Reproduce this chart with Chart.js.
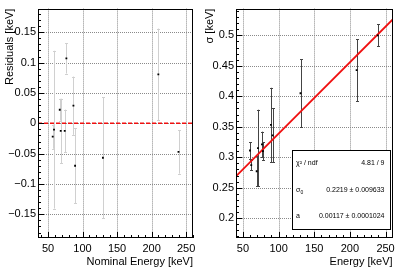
<!DOCTYPE html>
<html><head><meta charset="utf-8">
<script src="https://cdn.jsdelivr.net/npm/chart.js@4.4.1/dist/chart.umd.min.js"></script>
<style>
html,body{margin:0;padding:0;background:#fff;}
#wrap{position:relative;width:399px;height:271px;overflow:hidden;}
#c1{position:absolute;left:0;top:0;}
#c2{position:absolute;left:200px;top:0;}
</style></head><body>
<div id="wrap"><canvas id="c1" width="200" height="271"></canvas><canvas id="c2" width="199" height="271"></canvas></div>
<script>
// ---- data ----
const nominalEnergy  = [56.8, 58.7, 67.0, 68.4, 74.2, 76.6, 86.8, 89.2, 129.5, 209.8, 239.0];
const residuals      = [-0.022, -0.0105, 0.0224, -0.0125, -0.0125, 0.107, 0.029, -0.070, -0.0567, 0.0806, -0.047];
const residualErrors = [0.020, 0.130, 0.018, 0.053, 0.035, 0.025, 0.048, 0.062, 0.100, 0.0755, 0.036];
const zeroLineX      = [35.5, 260];
const zeroLineY      = [0, 0];

const energy      = [59.8, 61.6, 69.2, 71.0, 76.6, 78.0, 89.2, 91.5, 130.7, 209.4, 239.0];
const sigma       = [0.311, 0.287, 0.277, 0.315, 0.321, 0.310, 0.353, 0.336, 0.405, 0.443, 0.500];
const sigmaErrors = [0.014, 0.008, 0.025, 0.063, 0.021, 0.015, 0.061, 0.044, 0.056, 0.051, 0.018];
const fitEnergy   = [40, 260];
const fitSigma    = [0.2687, 0.5261];

const xTicks        = [50, 100, 150, 200, 250];
const residualTicks = [-0.15, -0.1, -0.05, 0, 0.05, 0.1, 0.15];
const sigmaTicks    = [0.2, 0.25, 0.3, 0.35, 0.4, 0.45, 0.5];
const statLabels    = ['χ² / ndf', 'σ', 'a'];
const statValues    = ['4.81 / 9', '0.2219 ± 0.009633', '0.00117 ± 0.0001024'];

const FONT = 'Liberation Sans, Arial, sans-serif';

function fmt(v){ return (v < 0 ? '\u2212' : '') + String(Math.abs(v)); }

const rootStyle = {
  id: 'rootStyle',
  beforeDatasetsDraw(chart, args, o) {
    const ctx = chart.ctx, ca = chart.chartArea, xs = chart.scales.x, ys = chart.scales.y;
    ctx.save();
    ctx.strokeStyle = '#8a8a8a'; ctx.lineWidth = 1; ctx.setLineDash([1, 1]);
    o.xTicks.forEach(v => { const p = Math.round(xs.getPixelForValue(v)) + 0.5;
      ctx.beginPath(); ctx.moveTo(p, ca.top); ctx.lineTo(p, ca.bottom); ctx.stroke(); });
    o.yTicks.forEach(v => { const p = Math.round(ys.getPixelForValue(v)) + 0.5;
      ctx.beginPath(); ctx.moveTo(ca.left, p); ctx.lineTo(ca.right, p); ctx.stroke(); });
    ctx.setLineDash([]);
    // error bars
    ctx.strokeStyle = o.errColor; ctx.lineWidth = 1;
    o.ex.forEach((x, i) => {
      const px = Math.round(xs.getPixelForValue(x)) + 0.5;
      const y1 = ys.getPixelForValue(o.ey[i] + o.err[i]);
      const y2 = ys.getPixelForValue(o.ey[i] - o.err[i]);
      ctx.beginPath(); ctx.moveTo(px, y1); ctx.lineTo(px, y2);
      ctx.moveTo(px - 1.5, Math.round(y1) + 0.5); ctx.lineTo(px + 1.5, Math.round(y1) + 0.5);
      ctx.moveTo(px - 1.5, Math.round(y2) + 0.5); ctx.lineTo(px + 1.5, Math.round(y2) + 0.5);
      ctx.stroke();
    });
    ctx.restore();
  },
  afterDatasetsDraw(chart, args, o) {
    const ctx = chart.ctx, ca = chart.chartArea, xs = chart.scales.x, ys = chart.scales.y;
    ctx.save();
    ctx.strokeStyle = '#000'; ctx.lineWidth = 1;
    // minor/major ticks inside frame (left and bottom)
    ctx.beginPath();
    for (let v = Math.ceil(xs.min / 10) * 10; v <= xs.max + 1e-9; v += 10) {
      const p = Math.round(xs.getPixelForValue(v)) + 0.5;
      const len = (Math.abs(v % 50) < 1e-6) ? 6 : 3;
      ctx.moveTo(p, ca.bottom); ctx.lineTo(p, ca.bottom - len);
    }
    const ys0 = Math.ceil(ys.min / 0.01 - 1e-6);
    for (let k = ys0; k * 0.01 <= ys.max + 1e-9; k++) {
      const v = k * 0.01;
      const p = Math.round(ys.getPixelForValue(v)) + 0.5;
      const len = (k % 5 === 0) ? 6 : 3;
      ctx.moveTo(ca.left, p); ctx.lineTo(ca.left + len, p);
    }
    ctx.stroke();
    ctx.strokeRect(Math.round(ca.left) + 0.5, Math.round(ca.top) + 0.5,
                   Math.round(ca.right - ca.left) - 1, Math.round(ca.bottom - ca.top) - 1);
    if (o.stat) {
      const bx = 92, by = 150, bw = 98, bh = 79;
      ctx.fillStyle = '#fff'; ctx.fillRect(bx, by, bw, bh);
      ctx.strokeRect(bx + 0.5, by + 0.5, bw, bh);
      ctx.fillStyle = '#000'; ctx.font = '7px ' + FONT; ctx.textBaseline = 'middle';
      const rowY = [163.5, 190.5, 216.5];
      statLabels.forEach((t, i) => {
        ctx.textAlign = 'left'; ctx.fillText(t, 96, rowY[i]);
        if (i === 1) { ctx.font = '5px ' + FONT; ctx.fillText('0', 100.5, rowY[i] + 2); ctx.font = '7px ' + FONT; }
        ctx.textAlign = 'right'; ctx.fillText(statValues[i], 184.5, rowY[i]);
      });
    }
    ctx.restore();
  }
};

function axisX(title, min, max) {
  return {
    type: 'linear', min, max,
    afterBuildTicks: s => { s.ticks = xTicks.map(v => ({ value: v })); },
    afterFit: s => { s.height = 33; },
    grid: { display: false, drawTicks: false }, border: { display: false },
    ticks: { padding: 4, color: '#000', font: { family: FONT, size: 11 }, maxRotation: 0, autoSkip: false },
    title: { display: true, text: title, align: 'end', color: '#000', font: { family: FONT, size: 11 }, padding: { top: 0, bottom: 2 } }
  };
}
function axisY(title, min, max, ticks, width) {
  return {
    type: 'linear', min, max,
    afterBuildTicks: s => { s.ticks = ticks.map(v => ({ value: v })); },
    afterFit: s => { s.width = width; },
    grid: { display: false, drawTicks: false }, border: { display: false },
    ticks: { padding: 2, color: '#000', font: { family: FONT, size: 11 }, autoSkip: false, callback: v => fmt(v) },
    title: { display: true, text: title, align: 'end', color: '#000', font: { family: FONT, size: 11 }, padding: { top: 3, bottom: 0 } }
  };
}

const common = { responsive: false, animation: false, events: [], devicePixelRatio: 1 };

new Chart(document.getElementById('c1'), {
  type: 'scatter',
  data: { datasets: [
    { data: nominalEnergy.map((x, i) => ({ x, y: residuals[i] })), pointStyle: 'rect', pointRadius: 1.3,
      backgroundColor: '#000', borderWidth: 0, showLine: false },
    { type: 'line', data: zeroLineX.map((x, i) => ({ x, y: zeroLineY[i] })), borderColor: '#f01010',
      borderWidth: 1.4, borderDash: [4, 2], pointRadius: 0, fill: false }
  ]},
  options: Object.assign({}, common, {
    layout: { padding: { top: 7, right: 7, left: 0, bottom: 0 } },
    scales: { x: axisX('Nominal Energy [keV]', 35.5, 260), y: axisY('Residuals [keV]', -0.189, 0.189, residualTicks, 38) },
    plugins: { legend: { display: false }, tooltip: { enabled: false },
      rootStyle: { xTicks, yTicks: residualTicks, ex: nominalEnergy, ey: residuals, err: residualErrors, errColor: '#d0d0d0', stat: false } }
  }),
  plugins: [rootStyle]
});

new Chart(document.getElementById('c2'), {
  type: 'scatter',
  data: { datasets: [
    { data: energy.map((x, i) => ({ x, y: sigma[i] })), pointStyle: 'rect', pointRadius: 1.3,
      backgroundColor: '#000', borderWidth: 0, showLine: false },
    { type: 'line', data: fitEnergy.map((x, i) => ({ x, y: fitSigma[i] })), borderColor: '#f01010',
      borderWidth: 1.8, pointRadius: 0, fill: false }
  ]},
  options: Object.assign({}, common, {
    layout: { padding: { top: 7, right: 6, left: 0, bottom: 0 } },
    scales: { x: axisX('Energy [keV]', 40.2, 259.8), y: axisY('σ [keV]', 0.1674, 0.544, sigmaTicks, 36) },
    plugins: { legend: { display: false }, tooltip: { enabled: false },
      rootStyle: { xTicks, yTicks: sigmaTicks, ex: energy, ey: sigma, err: sigmaErrors, errColor: '#444', stat: true } }
  }),
  plugins: [rootStyle]
});
</script>
</body></html>
